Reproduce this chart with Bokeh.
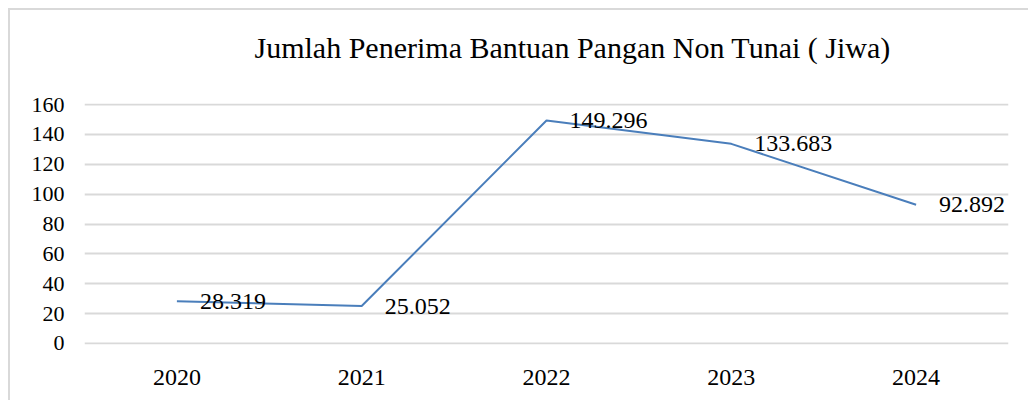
from bokeh.plotting import figure
from bokeh.models import FixedTicker, Title, ColumnDataSource, Range1d
from bokeh.core.properties import value
from bokeh.embed import file_html
from bokeh.resources import INLINE

years = ["2020", "2021", "2022", "2023", "2024"]
values = [28.319, 25.052, 149.296, 133.683, 92.892]
labels = ["28.319", "25.052", "149.296", "133.683", "92.892"]
y_ticks = [0, 20, 40, 60, 80, 100, 120, 140, 160]
title_text = "Jumlah Penerima Bantuan Pangan Non Tunai ( Jiwa)"

FONT = "Liberation Serif"

src = ColumnDataSource(dict(x=years, y=values, t=labels))

p = figure(x_range=years, y_range=Range1d(-0.7, 160.7), width=1020, height=392,
           output_backend="svg", toolbar_location=None, title=None,
           min_border_left=74, min_border_right=22, min_border_top=93,
           min_border_bottom=58)
p.styles = {"border-left": "2px solid #d9d9d9", "border-top": "2px solid #d9d9d9",
            "margin-left": "8px", "margin-top": "8px"}

# blank spacer title (closest to the frame) to lift the main title
gap = Title(text=" ", text_font=FONT, text_font_size="10px", standoff=22)
p.add_layout(gap, "above")

t = Title(text=title_text, align="left", text_font=FONT, text_font_size="30px",
          text_font_style="normal", text_color="#000000", standoff=10, offset=170)
p.add_layout(t, "above")

p.outline_line_color = None
p.background_fill_color = "white"
p.border_fill_color = "white"

p.line("x", "y", source=src, line_color="#4a7ebb", line_width=2)
p.text("x", "y", text="t", source=src, x_offset=23, text_align="left",
       text_baseline="middle", text_font=value(FONT), text_font_size="24px",
       text_color="#000000")

p.yaxis.ticker = FixedTicker(ticks=y_ticks)
p.ygrid.ticker = FixedTicker(ticks=y_ticks)
p.ygrid.grid_line_color = "#d9d9d9"
p.ygrid.grid_line_width = 2
p.xgrid.grid_line_color = None

for ax in (p.xaxis, p.yaxis):
    ax.axis_line_color = None
    ax.major_tick_line_color = None
    ax.minor_tick_line_color = None
    ax.major_label_text_font = FONT
    ax.major_label_text_color = "#000000"

p.yaxis.major_label_text_font_size = "22px"
p.xaxis.major_label_text_font_size = "24px"
p.yaxis.major_label_standoff = 14
p.xaxis.major_label_standoff = 19

open("out.html", "w").write(file_html(p, INLINE))
